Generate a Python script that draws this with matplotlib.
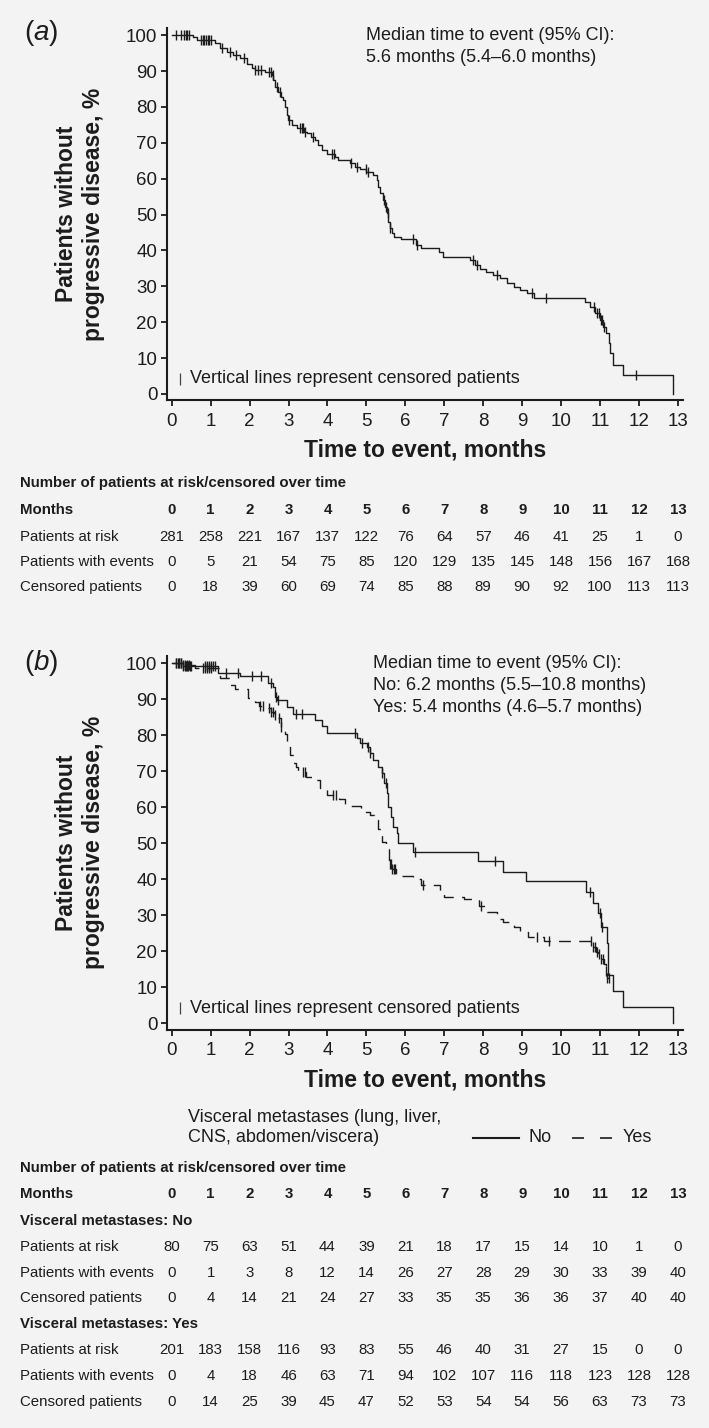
import matplotlib
matplotlib.use("Agg")
import matplotlib.pyplot as plt
import matplotlib.transforms as mtransforms
from matplotlib.lines import Line2D
import numpy as np

plt.rcParams['font.family'] = ['Liberation Sans', 'DejaVu Sans']
plt.rcParams['mathtext.fontset'] = 'custom'
plt.rcParams['mathtext.rm'] = 'Liberation Sans'
plt.rcParams['mathtext.it'] = 'Liberation Sans:italic'

# ---- data ----
months = list(range(14))

# (a) all patients: step times (months) and % without progression after each step
a_time = [0, 0.55, 0.64, 1.11, 1.24, 1.41, 1.58, 1.75, 1.93, 2.05, 2.15, 2.40, 2.57, 2.61,
          2.65, 2.74, 2.82, 2.87, 2.91, 2.95, 2.99, 3.08, 3.21, 3.40, 3.47, 3.59, 3.68, 3.76,
          3.85, 3.98, 4.19, 4.28, 4.58, 4.71, 4.83, 5.00, 5.18, 5.26, 5.31, 5.35, 5.42, 5.48,
          5.52, 5.56, 5.60, 5.66, 5.72, 5.90, 6.28, 6.40, 6.86, 6.98, 7.67, 7.79, 7.91, 8.08,
          8.25, 8.43, 8.60, 8.78, 8.95, 9.12, 9.30, 10.62, 10.75, 10.88, 11.00, 11.08, 11.14,
          11.22, 11.25, 11.33, 11.60, 12.88]
a_surv = [100, 99.4, 98.6, 97.7, 96.3, 95.3, 94.4, 93.5, 92.1, 90.9, 90.3, 89.8, 88.9, 87.5,
          85.6, 84.2, 82.8, 81.9, 80.0, 77.7, 76.3, 74.9, 74.0, 73.1, 72.6, 71.7, 70.8, 69.4,
          68.0, 67.0, 66.1, 65.2, 64.3, 63.3, 62.6, 61.9, 61.0, 59.6, 57.7, 55.9, 54.0, 52.2,
          50.3, 48.0, 46.2, 44.8, 43.8, 43.1, 41.5, 40.6, 39.6, 38.2, 37.3, 35.9, 34.7, 34.1,
          33.1, 32.2, 30.8, 29.9, 29.0, 28.1, 26.7, 25.7, 24.3, 22.5, 20.6, 18.7, 16.9,
          14.1, 11.5, 8.0, 5.3, 0]
a_cens = [0.1, 0.25, 0.32, 0.36, 0.4, 0.44, 0.75, 0.8, 0.84, 0.88, 0.92, 0.96, 1.0, 1.3, 1.5,
          1.65, 1.85, 2.15, 2.22, 2.3, 2.5, 2.55, 2.6, 2.7, 2.78, 3.0, 3.3, 3.34, 3.38, 3.42,
          3.62, 4.12, 4.17, 4.6, 4.75, 4.98, 5.05, 5.45, 5.5, 5.55, 5.6, 6.2, 6.3, 7.75, 7.85,
          8.35, 9.25, 9.6, 10.85, 10.92, 10.98, 11.02, 11.06, 11.1, 11.92]

# (b) visceral metastases: No
no_time = [0, 0.30, 1.20, 1.76, 2.48, 2.61, 2.65, 2.70, 2.95, 3.12, 3.68, 3.85, 3.98, 4.75,
           4.84, 5.01, 5.09, 5.18, 5.30, 5.39, 5.45, 5.52, 5.56, 5.62, 5.69, 5.78, 5.82, 6.20,
           7.87, 8.51, 9.11, 10.64, 10.82, 10.96, 11.02, 11.17, 11.21, 11.32, 11.60, 12.88]
no_surv = [100, 99.1, 97.4, 96.5, 94.6, 93.5, 90.7, 89.8, 87.9, 85.9, 84.3, 82.6, 80.7, 79.1,
           77.8, 76.7, 75.0, 73.1, 71.3, 69.4, 66.7, 63.9, 60.2, 57.4, 54.6, 52.8, 50.0, 47.7,
           45.1, 42.1, 39.5, 36.6, 33.5, 30.6, 26.8, 22.2, 13.4, 9.1, 4.6, 0]
no_cens = [0.1, 0.2, 0.25, 0.3, 0.33, 0.36, 0.4, 0.43, 0.46, 0.5, 0.85, 0.9, 0.95, 1.0, 1.05,
           1.1, 1.4, 1.7, 2.05, 2.3, 2.55, 2.68, 2.72, 3.2, 3.35, 4.7, 4.9, 5.05, 5.1, 5.4, 5.5,
           6.25, 8.3, 10.75, 11.0, 11.05]

# (b) visceral metastases: Yes
yes_time = [0, 0.30, 0.60, 1.25, 1.50, 1.62, 1.95, 2.15, 2.25, 2.40, 2.55, 2.63, 2.70, 2.80,
            2.90, 2.97, 3.04, 3.12, 3.20, 3.25, 3.45, 3.70, 3.80, 4.00, 4.30, 4.45, 4.85, 5.10,
            5.20, 5.30, 5.40, 5.50, 5.57, 5.65, 5.75, 6.20, 6.40, 6.90, 7.00, 7.50, 7.90, 8.10,
            8.35, 8.50, 8.80, 8.95, 9.15, 9.56, 10.80, 10.90, 10.96, 11.02, 11.10, 11.14, 11.17,
            11.22]
yes_surv = [100, 99.4, 98.7, 95.8, 94.0, 92.7, 90.3, 89.3, 88.0, 87.5, 86.5, 85.6, 84.7, 82.4,
            80.4, 77.2, 74.5, 72.2, 71.3, 69.9, 68.5, 67.6, 65.3, 63.5, 62.2, 60.4, 58.6, 57.8,
            56.5, 54.0, 50.4, 48.5, 44.2, 43.0, 41.0, 40.1, 38.5, 36.4, 35.0, 34.6, 32.7, 30.9,
            29.0, 28.1, 26.8, 25.4, 24.1, 22.9, 21.1, 19.9, 19.2, 17.8, 16.4, 14.6, 12.5,
            12.5]
yes_cens = [0.1, 0.15, 0.2, 0.25, 0.3, 0.35, 0.4, 0.45, 0.8, 0.85, 0.9, 0.95, 1.0, 2.28, 2.34,
            2.5, 2.55, 2.6, 2.65, 2.75, 2.82, 3.38, 3.43, 4.15, 4.22, 5.6, 5.63, 5.66, 5.7,
            5.74, 6.45, 7.95, 9.37, 9.69, 10.78, 10.83, 10.88, 10.93, 10.98, 11.03, 11.08,
            11.15, 11.19, 11.22]

# risk tables
a_risk = [281, 258, 221, 167, 137, 122, 76, 64, 57, 46, 41, 25, 1, 0]
a_events = [0, 5, 21, 54, 75, 85, 120, 129, 135, 145, 148, 156, 167, 168]
a_censored = [0, 18, 39, 60, 69, 74, 85, 88, 89, 90, 92, 100, 113, 113]
no_risk = [80, 75, 63, 51, 44, 39, 21, 18, 17, 15, 14, 10, 1, 0]
no_events = [0, 1, 3, 8, 12, 14, 26, 27, 28, 29, 30, 33, 39, 40]
no_censored = [0, 4, 14, 21, 24, 27, 33, 35, 35, 36, 36, 37, 40, 40]
yes_risk = [201, 183, 158, 116, 93, 83, 55, 46, 40, 31, 27, 15, 0, 0]
yes_events = [0, 4, 18, 46, 63, 71, 94, 102, 107, 116, 118, 123, 128, 128]
yes_censored = [0, 14, 25, 39, 45, 47, 52, 53, 54, 54, 56, 63, 73, 73]

W, H = 709, 1428
BG = '#f3f3f3'
INK = '#1c1c1c'

fig = plt.figure(figsize=(W / 100, H / 100), dpi=100, facecolor=BG)


def fy(y):
    return 1 - y / H


def km(ax, t, s, cens, dashed=False):
    line, = ax.step(t, s, where='post', color=INK, lw=1.0)
    if dashed:
        line.set_dashes((8.5, 6))
    idx = np.searchsorted(t, cens, side='right') - 1
    ax.plot(cens, np.array(s)[idx], ls='none', marker='|', ms=6.5, mew=1.0, color=INK)


def style(ax, top, bottom):
    ax.set_facecolor(BG)
    ax.set_xlim(-0.12, 13.13)
    ax.set_ylim(-1.7, 102)
    for sp in ['top', 'right']:
        ax.spines[sp].set_visible(False)
    for sp in ['left', 'bottom']:
        ax.spines[sp].set_linewidth(1.5)
        ax.spines[sp].set_color(INK)
    ax.set_xticks(months)
    ax.set_yticks(range(0, 101, 10))
    ax.tick_params(direction='out', length=4, width=1.3, colors=INK, labelsize=13.5)
    ax.tick_params(axis='x', pad=5)
    ax.tick_params(axis='y', pad=3)
    h = bottom - top
    ax.set_xlabel('Time to event, months', fontsize=16.5, fontweight='bold', color=INK)
    ax.xaxis.set_label_coords(0.5, -50 / h)
    ax.xaxis.label.set_va('center')
    ax.set_ylabel('Patients without\nprogressive disease, %', fontsize=16.5,
                  fontweight='bold', color=INK, linespacing=1.25)
    ax.yaxis.set_label_coords(-87 / 516, 0.5)
    ax.yaxis.label.set_va('center')
    # censoring note
    ax.plot([0.025], [0.057], transform=ax.transAxes, marker='|', ms=9, mew=0.9, color='#444444')
    ax.text(0.044, 0.057, 'Vertical lines represent censored patients', transform=ax.transAxes,
            fontsize=13, color=INK, ha='left', va='center')


# ---- panel (a) ----
axa = fig.add_axes([167 / W, fy(400), 516 / W, 372 / H])
style(axa, 28, 400)
km(axa, a_time, a_surv, a_cens)
fig.text(41 / W, fy(33), r'($\it{a}$)', fontsize=20, ha='center', va='center', color=INK)
for i, ln in enumerate(['Median time to event (95% CI):', '5.6 months (5.4\u20136.0 months)']):
    fig.text(366 / W, fy(35 + 22 * i), ln, fontsize=13, ha='left', va='center', color=INK)

# ---- panel (b) ----
axb = fig.add_axes([167 / W, fy(1029.5), 516 / W, 373.5 / H])
style(axb, 656, 1029.5)
km(axb, no_time, no_surv, no_cens)
km(axb, yes_time, yes_surv, yes_cens, dashed=True)
fig.text(41 / W, fy(663), r'($\it{b}$)', fontsize=20, ha='center', va='center', color=INK)
for i, ln in enumerate(['Median time to event (95% CI):',
                        'No: 6.2 months (5.5\u201310.8 months)',
                        'Yes: 5.4 months (4.6\u20135.7 months)']):
    fig.text(373 / W, fy(663 + 22.5 * i), ln, fontsize=13, ha='left', va='center', color=INK)

# legend for panel (b)
fig.text(188 / W, fy(1117), 'Visceral metastases (lung, liver,', fontsize=13, va='center', color=INK)
fig.text(188 / W, fy(1138), 'CNS, abdomen/viscera)', fontsize=13, va='center', color=INK)
fig.add_artist(Line2D([473 / W, 519 / W], [fy(1138), fy(1138)], color=INK, lw=1.5))
fig.text(529 / W, fy(1138), 'No', fontsize=13, va='center', color=INK)
fig.add_artist(Line2D([572 / W, 612 / W], [fy(1138), fy(1138)], color=INK, lw=1.2,
                      dashes=(7.2, 9.6)))
fig.text(623 / W, fy(1138), 'Yes', fontsize=13, va='center', color=INK)


# ---- risk tables ----
def row(ax, y, label, values, bold=False):
    w = 'bold' if bold else 'normal'
    fig.text(20 / W, fy(y), label, fontsize=10.8, fontweight=w, ha='left', va='center', color=INK)
    if values is None:
        return
    tr = mtransforms.blended_transform_factory(ax.transData, fig.transFigure)
    for m, v in zip(months, values):
        fig.text(m, fy(y), str(v), transform=tr, fontsize=10.8, fontweight=w,
                 ha='center', va='center', color=INK)


row(axa, 483, 'Number of patients at risk/censored over time', None, bold=True)
row(axa, 510, 'Months', months, bold=True)
row(axa, 537, 'Patients at risk', a_risk)
row(axa, 562, 'Patients with events', a_events)
row(axa, 587, 'Censored patients', a_censored)

row(axb, 1168, 'Number of patients at risk/censored over time', None, bold=True)
row(axb, 1194, 'Months', months, bold=True)
row(axb, 1221, 'Visceral metastases: No', None, bold=True)
row(axb, 1247, 'Patients at risk', no_risk)
row(axb, 1273, 'Patients with events', no_events)
row(axb, 1298, 'Censored patients', no_censored)
row(axb, 1324, 'Visceral metastases: Yes', None, bold=True)
row(axb, 1350, 'Patients at risk', yes_risk)
row(axb, 1376, 'Patients with events', yes_events)
row(axb, 1402, 'Censored patients', yes_censored)

fig.savefig('out.png', dpi=100, facecolor=BG)
